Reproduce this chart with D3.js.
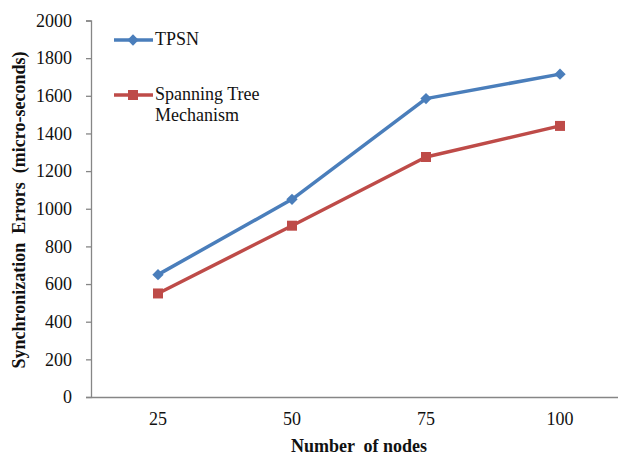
<!DOCTYPE html>
<html>
<head>
<meta charset="utf-8">
<script src="https://cdn.jsdelivr.net/npm/d3@7/dist/d3.min.js"></script>
<style>
  html, body { margin: 0; padding: 0; background: #fff; }
  svg { display: block; }
  text { font-family: "Liberation Serif", "Times New Roman", serif; }
</style>
</head>
<body>
<svg id="chart" width="618" height="455"></svg>
<script>
// Chart data
const categories = ["25", "50", "75", "100"];
const tpsn = [650, 1050, 1585, 1715];
const spanningTree = [550, 910, 1275, 1440];
const yTicks = [0, 200, 400, 600, 800, 1000, 1200, 1400, 1600, 1800, 2000];
const seriesNames = ["TPSN", "Spanning Tree Mechanism"];

(function () {
  const svg = d3.select("#chart");
  const plotLeft = 91, plotRight = 627, plotTop = 20.5, plotBottom = 397;

  const x = d3.scaleBand().domain(categories).range([plotLeft, plotRight]);
  const y = d3.scaleLinear().domain([0, 2000]).range([plotBottom, plotTop]);

  const axisColor = "#868686";
  const textColor = "#111";

  // Y axis
  const yAxis = svg.append("g")
    .attr("transform", `translate(${plotLeft},0)`)
    .call(d3.axisLeft(y).tickValues(yTicks).tickSize(5).tickPadding(14).tickFormat(d3.format("d")));
  yAxis.select(".domain").attr("stroke", axisColor).attr("stroke-width", 1.3);
  yAxis.selectAll(".tick line").attr("stroke", axisColor).attr("stroke-width", 1.3);
  yAxis.selectAll(".tick text").attr("fill", textColor).style("font-size", "18px");

  // X axis
  const xAxis = svg.append("g")
    .attr("transform", `translate(0,${plotBottom})`)
    .call(d3.axisBottom(x).tickSize(0).tickPadding(15));
  xAxis.select(".domain").attr("stroke", axisColor).attr("stroke-width", 1.3);
  xAxis.selectAll(".tick text").attr("fill", textColor).style("font-size", "18px");

  // Axis titles
  svg.append("text")
    .attr("x", 359).attr("y", 452)
    .attr("text-anchor", "middle")
    .style("font-size", "18px").style("font-weight", "bold")
    .attr("fill", textColor)
    .attr("xml:space", "preserve")
    .text("Number  of nodes");

  svg.append("text")
    .attr("transform", "translate(25,210) rotate(-90)")
    .attr("text-anchor", "middle")
    .style("font-size", "18px").style("font-weight", "bold")
    .attr("fill", textColor)
    .attr("xml:space", "preserve")
    .text("Synchronization  Errors  (micro-seconds)");

  // Series: diamonds are squares turned by 45 degrees
  const series = [
    { name: seriesNames[0], values: tpsn, color: "#4a7ebb", shape: d3.symbolSquare, size: 64, rotate: 45 },
    { name: seriesNames[1], values: spanningTree, color: "#be4b48", shape: d3.symbolSquare, size: 100, rotate: 0 }
  ];

  const cx = d => x(d) + x.bandwidth() / 2;
  const line = d3.line().x((d, i) => cx(categories[i])).y(d => y(d));

  series.forEach(s => {
    svg.append("path")
      .datum(s.values)
      .attr("d", line)
      .attr("fill", "none")
      .attr("stroke", s.color)
      .attr("stroke-width", 3.5)
      .attr("stroke-linejoin", "round");
    svg.selectAll(null)
      .data(s.values)
      .join("path")
      .attr("transform", (d, i) => `translate(${cx(categories[i])},${y(d)}) rotate(${s.rotate})`)
      .attr("d", d3.symbol().type(s.shape).size(s.size))
      .attr("fill", s.color);
  });

  // Legend
  const legend = [
    { s: series[0], y: 40, lines: ["TPSN"] },
    { s: series[1], y: 95, lines: ["Spanning Tree", "Mechanism"] }
  ];
  legend.forEach(l => {
    svg.append("line")
      .attr("x1", 114).attr("x2", 153)
      .attr("y1", l.y).attr("y2", l.y)
      .attr("stroke", l.s.color).attr("stroke-width", 3.5);
    svg.append("path")
      .attr("transform", `translate(133,${l.y}) rotate(${l.s.rotate})`)
      .attr("d", d3.symbol().type(l.s.shape).size(l.s.size))
      .attr("fill", l.s.color);
    const t = svg.append("text")
      .attr("x", 155).attr("y", l.y + 5)
      .style("font-size", "18px")
      .attr("fill", textColor);
    l.lines.forEach((ln, i) => {
      t.append("tspan").attr("x", 155).attr("dy", i === 0 ? 0 : 21).text(ln);
    });
  });
})();
</script>
</body>
</html>
